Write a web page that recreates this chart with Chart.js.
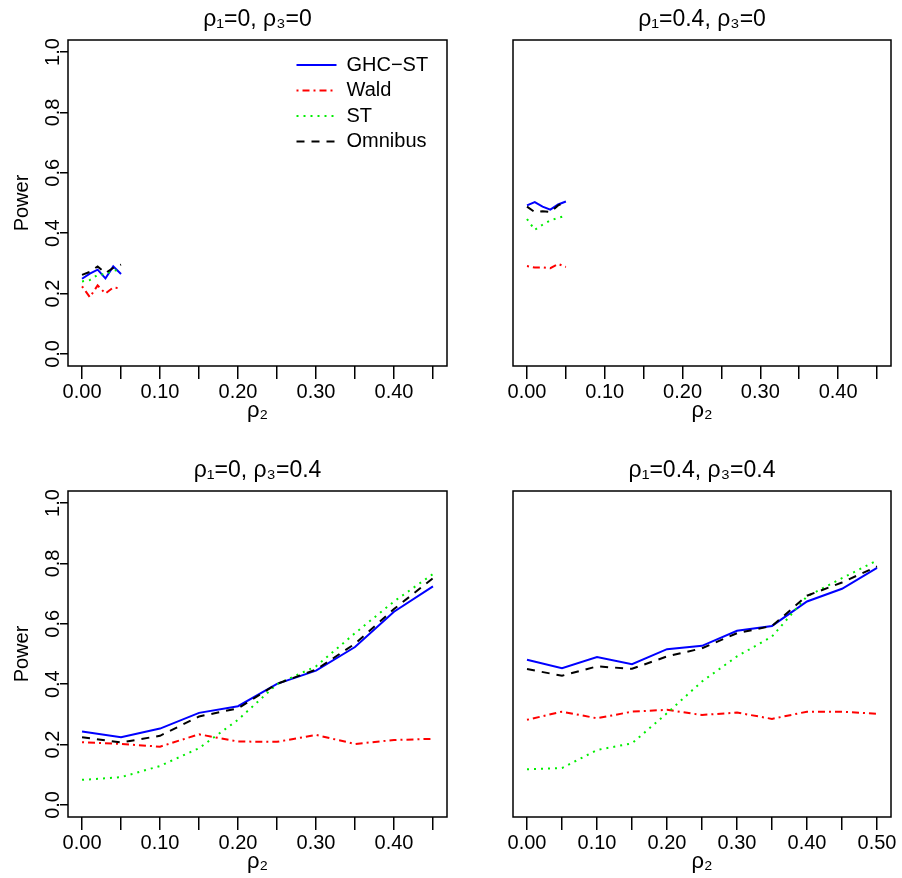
<!DOCTYPE html>
<html>
<head>
<meta charset="utf-8">
<script src="https://cdn.jsdelivr.net/npm/chart.js@4.4.1/dist/chart.umd.min.js"></script>
<style>
  html, body { margin: 0; padding: 0; background: #fff; overflow: hidden; }
  body { width: 902px; height: 878px; position: relative; }
  canvas { position: absolute; }
</style>
</head>
<body>
<canvas id="p1" width="451" height="439" style="left:0;top:0"></canvas>
<canvas id="p2" width="451" height="439" style="left:451px;top:0"></canvas>
<canvas id="p3" width="451" height="439" style="left:0;top:451px"></canvas>
<canvas id="p4" width="451" height="439" style="left:451px;top:451px"></canvas>
<script>
// x values (rho2) for each panel
const rho2Short = [0, 0.01, 0.02, 0.03, 0.04, 0.05];
const rho2Mid = [0, 0.05, 0.10, 0.15, 0.20, 0.25, 0.30, 0.35, 0.40, 0.45];
const rho2Long = [0, 0.05, 0.10, 0.15, 0.20, 0.25, 0.30, 0.35, 0.40, 0.45, 0.50];

// tick positions
const xTicksTo45 = [0, 0.05, 0.10, 0.15, 0.20, 0.25, 0.30, 0.35, 0.40, 0.45];
const xTicksTo50 = [0, 0.05, 0.10, 0.15, 0.20, 0.25, 0.30, 0.35, 0.40, 0.45, 0.50];
const yTicks = [0, 0.2, 0.4, 0.6, 0.8, 1.0];

const seriesNames = ["GHC\u2212ST", "Wald", "ST", "Omnibus"];

// rho1=0, rho3=0
const ghc00 = [0.249, 0.266, 0.279, 0.250, 0.290, 0.265];
const wald00 = [0.224, 0.188, 0.227, 0.200, 0.220, 0.217];
const st00 = [0.240, 0.245, 0.262, 0.265, 0.275, 0.280];
const omni00 = [0.262, 0.272, 0.290, 0.268, 0.285, 0.296];

// rho1=0.4, rho3=0
const ghc40 = [0.492, 0.503, 0.488, 0.478, 0.495, 0.505];
const wald40 = [0.291, 0.286, 0.287, 0.284, 0.298, 0.288];
const st40 = [0.447, 0.411, 0.428, 0.442, 0.451, 0.458];
const omni40 = [0.488, 0.470, 0.473, 0.470, 0.492, 0.505];

// rho1=0, rho3=0.4
const ghc04 = [0.243, 0.224, 0.253, 0.305, 0.327, 0.401, 0.445, 0.523, 0.640, 0.724];
const wald04 = [0.208, 0.202, 0.193, 0.234, 0.210, 0.209, 0.232, 0.202, 0.215, 0.219];
const st04 = [0.083, 0.092, 0.129, 0.188, 0.282, 0.400, 0.459, 0.569, 0.674, 0.765];
const omni04 = [0.224, 0.207, 0.229, 0.293, 0.320, 0.401, 0.448, 0.534, 0.649, 0.751];

// rho1=0.4, rho3=0.4
const ghc44 = [0.481, 0.453, 0.490, 0.466, 0.516, 0.527, 0.577, 0.593, 0.674, 0.716, 0.785];
const wald44 = [0.282, 0.309, 0.287, 0.309, 0.315, 0.298, 0.306, 0.285, 0.309, 0.309, 0.302];
const st44 = [0.118, 0.122, 0.182, 0.204, 0.304, 0.409, 0.492, 0.558, 0.691, 0.751, 0.810];
const omni44 = [0.450, 0.428, 0.459, 0.451, 0.492, 0.519, 0.569, 0.593, 0.693, 0.737, 0.790];

Chart.defaults.font.family = '"Liberation Sans", Arial, Helvetica, sans-serif';
Chart.defaults.font.size = 20;
Chart.defaults.color = "#000";

const styles = [
    { color: "#0000ff", dash: [], order: 4 },
    { color: "#ff0000", dash: [2, 4, 7, 4], order: 3 },
    { color: "#00ee00", dash: [2, 5], order: 2 },
    { color: "#000000", dash: [8, 7], order: 1 },
];

// box around the plot region, like R's box()
const boxPlugin = {
    id: "box",
    afterDraw(chart) {
        const { ctx, chartArea: a } = chart;
        ctx.save();
        ctx.strokeStyle = "#000";
        ctx.lineWidth = 1.5;
        ctx.strokeRect(a.left, a.top, a.right - a.left, a.bottom - a.top);
        ctx.restore();
    },
};

// put the legend in the top right corner of the plot region
const legendPlacer = {
    id: "legendPlacer",
    afterLayout(chart) {
        if (chart.legend && chart.options.plugins.legend.display) {
            chart.legend.left = 291;
            chart.legend.top = 49.5;
        }
    },
};

function makePanel(id, title, xs, series, xTicks, showY, showLegend) {
    const xMax = xTicks[xTicks.length - 1];
    const datasets = series.map((ys, i) => ({
        label: seriesNames[i],
        data: xs.map((x, j) => ({ x: x, y: ys[j] })),
        borderColor: styles[i].color,
        backgroundColor: styles[i].color,
        borderDash: styles[i].dash,
        borderWidth: 2,
        pointRadius: 0,
        tension: 0,
        fill: false,
        order: styles[i].order,
    }));

    new Chart(document.getElementById(id), {
        type: "line",
        data: { datasets: datasets },
        options: {
            responsive: false,
            animation: false,
            layout: {
                padding: { left: 0, right: showY ? 4 : 11, top: 0, bottom: 0 },
            },
            plugins: {
                title: {
                    display: true,
                    text: title,
                    fullSize: false,
                    padding: { top: 6, bottom: 6.4 },
                    font: { size: 23, weight: "normal" },
                    color: "#000",
                },
                legend: {
                    display: showLegend,
                    position: "chartArea",
                    align: "start",
                    labels: {
                        usePointStyle: true,
                        pointStyleWidth: 40,
                        padding: 5.5,
                        font: { size: 20 },
                        color: "#000",
                        generateLabels: (chart) =>
                            chart.data.datasets.map((ds, i) => ({
                                text: ds.label,
                                strokeStyle: ds.borderColor,
                                fillStyle: ds.borderColor,
                                lineDash: ds.borderDash,
                                lineWidth: 2,
                                pointStyle: "line",
                                hidden: false,
                                datasetIndex: i,
                            })),
                    },
                },
                tooltip: { enabled: false },
            },
            scales: {
                x: {
                    type: "linear",
                    min: -0.04 * xMax,
                    max: 1.04 * xMax,
                    afterBuildTicks: (scale) => {
                        scale.ticks = xTicks.map((v) => ({ value: v }));
                    },
                    afterFit: (scale) => {
                        scale.height = 73;
                    },
                    ticks: {
                        autoSkip: false,
                        maxRotation: 0,
                        padding: 1.5,
                        callback: (value, index) => (index % 2 === 0 ? value.toFixed(2) : ""),
                    },
                    grid: { drawOnChartArea: false, tickLength: 13, color: "#000", lineWidth: 1.5 },
                    border: { display: false },
                    title: { display: true, text: "\u03c1\u2082", font: { size: 22 }, padding: { top: 0, bottom: 15 } },
                },
                y: {
                    display: showY,
                    min: -0.04,
                    max: 1.04,
                    afterBuildTicks: (scale) => {
                        scale.ticks = yTicks.map((v) => ({ value: v }));
                    },
                    afterFit: (scale) => {
                        scale.width = showY ? 68 : 62;
                    },
                    ticks: {
                        minRotation: 90,
                        maxRotation: 90,
                        crossAlign: "center",
                        padding: -7,
                        callback: (value) => value.toFixed(1),
                    },
                    grid: { drawOnChartArea: false, tickLength: 8, color: "#000", lineWidth: 1.5 },
                    border: { display: false },
                    title: { display: true, text: "Power", padding: { top: 10, bottom: 0 } },
                },
            },
        },
        plugins: [boxPlugin, legendPlacer],
    });
}

makePanel("p1", "\u03c1\u2081=0, \u03c1\u2083=0", rho2Short, [ghc00, wald00, st00, omni00], xTicksTo45, true, true);
makePanel("p2", "\u03c1\u2081=0.4, \u03c1\u2083=0", rho2Short, [ghc40, wald40, st40, omni40], xTicksTo45, false, false);
makePanel("p3", "\u03c1\u2081=0, \u03c1\u2083=0.4", rho2Mid, [ghc04, wald04, st04, omni04], xTicksTo45, true, false);
makePanel("p4", "\u03c1\u2081=0.4, \u03c1\u2083=0.4", rho2Long, [ghc44, wald44, st44, omni44], xTicksTo50, false, false);
</script>
</body>
</html>
